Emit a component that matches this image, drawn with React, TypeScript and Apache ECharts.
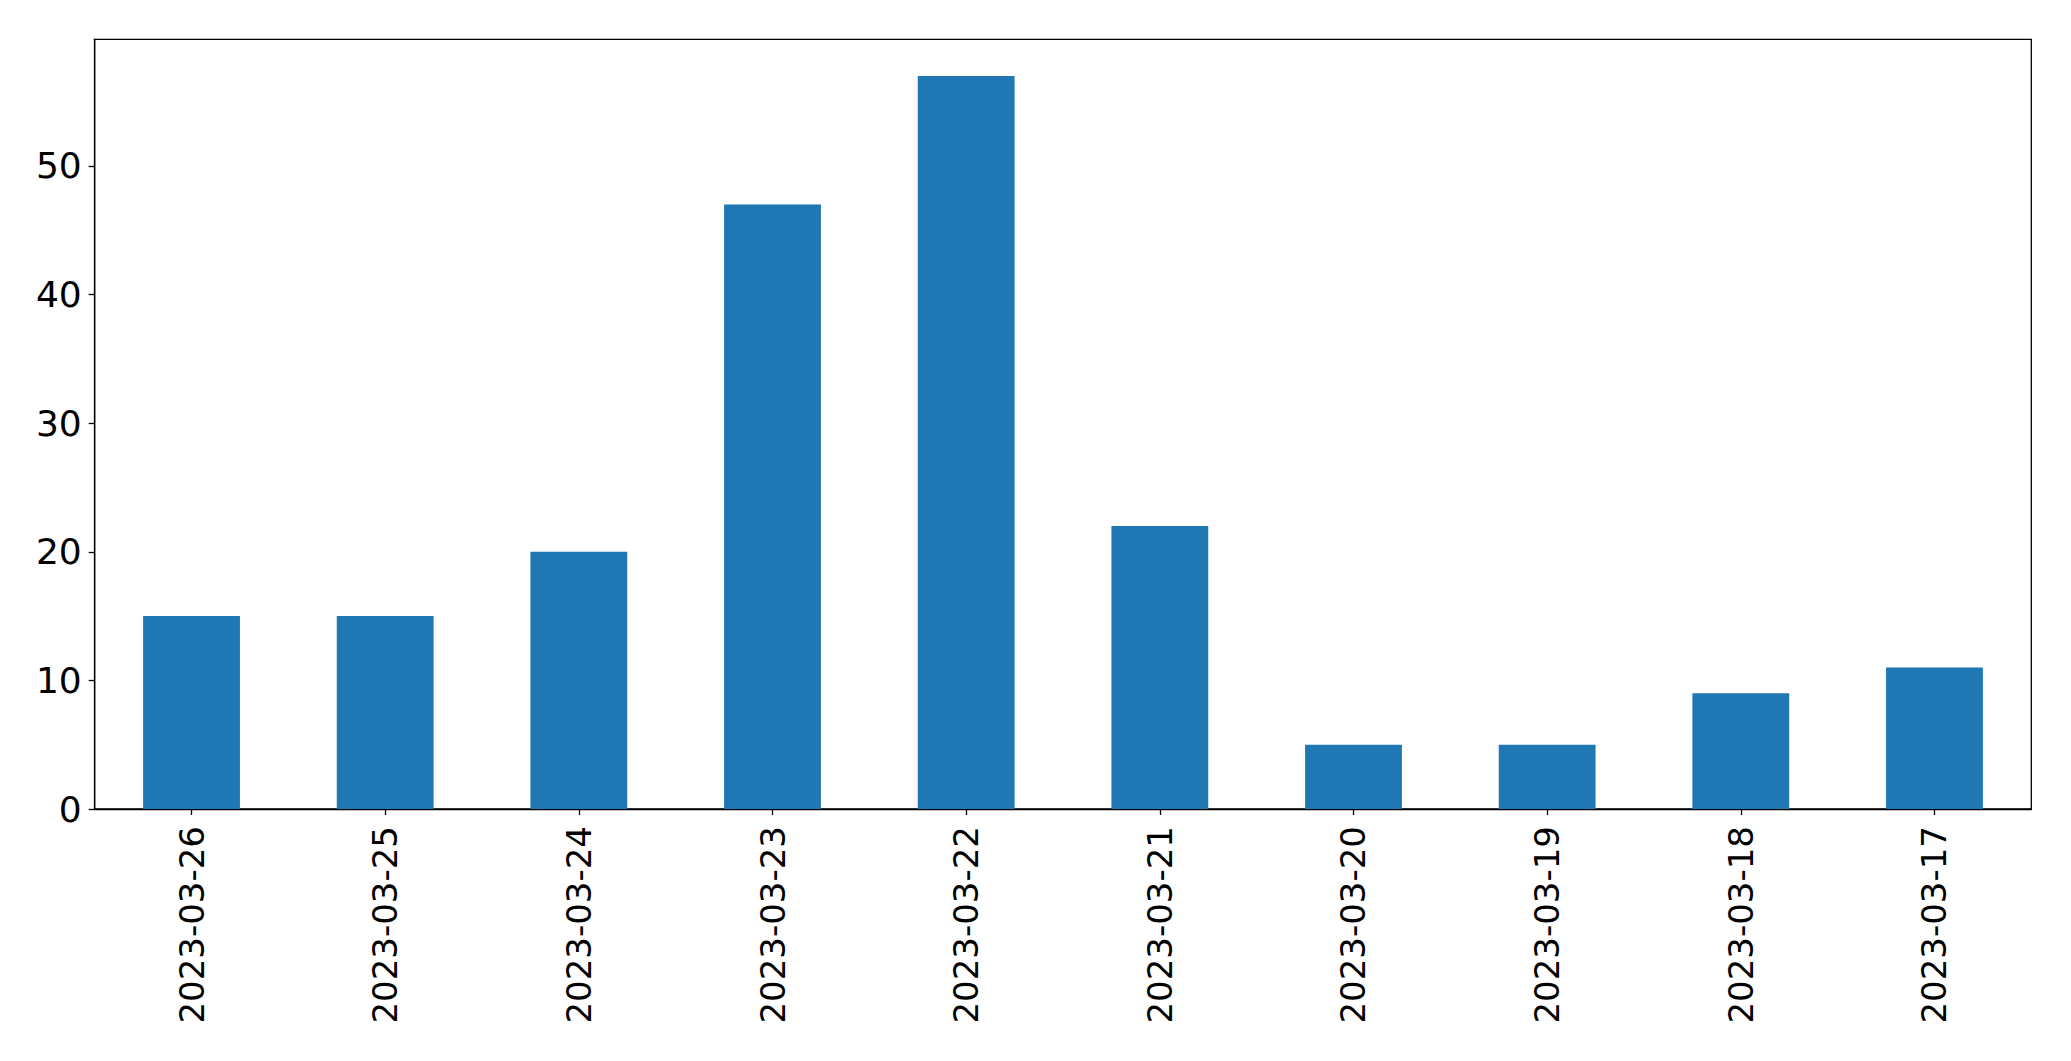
import React, { useEffect, useRef } from "react";
import * as echarts from "echarts";

const categories = [
  "2023-03-26",
  "2023-03-25",
  "2023-03-24",
  "2023-03-23",
  "2023-03-22",
  "2023-03-21",
  "2023-03-20",
  "2023-03-19",
  "2023-03-18",
  "2023-03-17",
];
const values = [15, 15, 20, 47, 57, 22, 5, 5, 9, 11];
const yTicks = [0, 10, 20, 30, 40, 50];

export default function App() {
  const ref = useRef<HTMLDivElement>(null);
  useEffect(() => {
    document.body.style.margin = "0";
    const chart = echarts.init(ref.current!, null, { renderer: "svg" });
    const font = "DejaVu Sans";
    chart.setOption({
      animation: false,
      backgroundColor: "#ffffff",
      grid: {
        left: 94.7,
        right: 39.7,
        top: 39.3,
        bottom: 252,
        show: true,
        borderColor: "#000000",
        borderWidth: 1.3,
        backgroundColor: "transparent",
      },
      xAxis: {
        type: "category",
        data: categories,
        axisLine: { show: true, lineStyle: { color: "#000000", width: 1.3 } },
        axisTick: {
          show: true,
          alignWithLabel: true,
          length: 6,
          lineStyle: { color: "#000000", width: 1.3 },
        },
        axisLabel: {
          rotate: 90,
          margin: 17,
          fontFamily: font,
          fontSize: 34,
          color: "#000000",
          interval: 0,
        },
        splitLine: { show: false },
      },
      yAxis: {
        type: "value",
        min: 0,
        max: 59.85,
        interval: 10,
        axisLine: { show: true, lineStyle: { color: "#000000", width: 1.3 } },
        axisTick: {
          show: true,
          length: 6,
          customValues: yTicks,
          lineStyle: { color: "#000000", width: 1.3 },
        },
        axisLabel: {
          customValues: yTicks,
          margin: 13,
          fontFamily: font,
          fontSize: 36,
          color: "#000000",
        },
        splitLine: { show: false },
      },
      series: [
        {
          type: "bar",
          data: values,
          barWidth: "50%",
          itemStyle: { color: "#1f77b4" },
        },
      ],
    });
    return () => chart.dispose();
  }, []);
  return (
    <div
      ref={ref}
      style={{ position: "absolute", left: 0, top: 0, width: 2071, height: 1061 }}
    />
  );
}
